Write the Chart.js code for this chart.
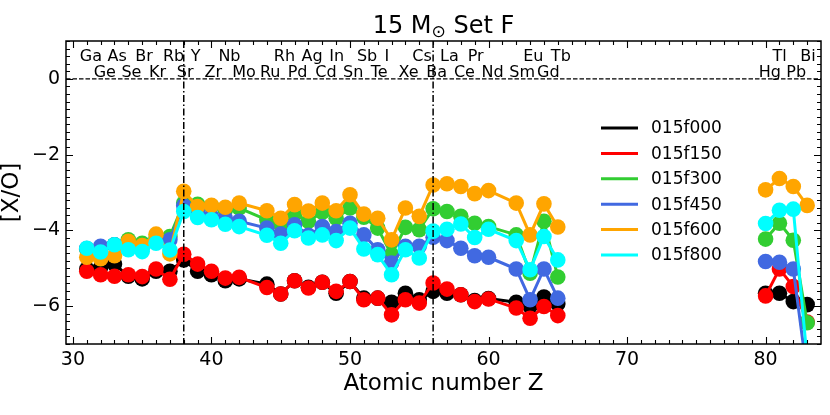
<!DOCTYPE html>
<html><head><meta charset="utf-8">
<script src="https://cdn.jsdelivr.net/npm/chart.js@4"></script>
<style>html,body{margin:0;padding:0;background:#fff}</style>
</head><body>
<canvas id="c" width="830" height="415"></canvas>
<script>
// ---- data ----
const Z = [31,32,33,34,35,36,37,38,39,40,41,42,44,45,46,47,48,49,50,51,52,53,54,55,56,57,58,59,60,62,63,64,65,66,80,81,82,83];
const s015f000 = [-5.02,-4.98,-4.89,-5.21,-5.28,-5.08,-5.08,-4.78,-5.08,-5.17,-5.33,-5.28,-5.42,-5.68,-5.33,-5.50,-5.37,-5.66,-5.35,-5.79,-5.79,-5.90,-5.66,-5.83,-5.61,-5.66,-5.70,-5.85,-5.80,-5.90,-6.01,-5.76,-5.94,null,-5.66,-5.66,-5.88,-5.96];
const s015f150 = [-5.08,-5.17,-5.21,-5.17,-5.22,-5.02,-5.29,-4.63,-4.89,-5.08,-5.26,-5.24,-5.51,-5.68,-5.33,-5.52,-5.37,-5.61,-5.35,-5.83,-5.79,-6.23,-5.83,-5.92,-5.39,-5.55,-5.70,-5.88,-5.81,-6.05,-6.32,-6.01,-6.25,null,-5.73,-5.02,-5.48,-6.42];
const s015f300 = [-4.50,-4.50,-4.38,-4.25,-4.34,-4.20,-4.16,-3.28,-3.31,-3.36,-3.46,-3.41,-3.72,-3.85,-3.57,-3.76,-3.52,-3.68,-3.41,-3.65,-3.94,-4.64,-3.92,-3.98,-3.43,-3.50,-3.63,-3.81,-3.90,-4.12,-5.13,-3.76,-5.23,null,-4.23,-3.81,-4.26,-6.44];
const s015f450 = [-4.48,-4.42,-4.38,-4.35,-4.45,-4.30,-4.25,-3.35,-3.50,-3.63,-3.68,-3.76,-3.94,-4.10,-3.85,-4.13,-3.90,-4.03,-3.81,-4.12,-4.51,-4.86,-4.42,-4.42,-4.18,-4.27,-4.47,-4.67,-4.71,-5.02,-5.83,-5.02,-5.79,null,-4.82,-4.84,-5.02,-7.80];
const s015f600 = [-4.71,-4.75,-4.67,-4.29,-4.40,-4.10,-4.62,-2.97,-3.37,-3.34,-3.39,-3.28,-3.48,-3.68,-3.32,-3.49,-3.28,-3.48,-3.06,-3.57,-3.68,-4.25,-3.41,-3.63,-2.80,-2.77,-2.84,-3.03,-2.95,-3.28,-4.12,-3.30,-3.91,null,-2.93,-2.63,-2.84,-3.34];
const s015f800 = [-4.47,-4.57,-4.38,-4.51,-4.56,-4.34,-4.52,-3.50,-3.66,-3.72,-3.84,-3.90,-4.13,-4.34,-4.01,-4.20,-4.12,-4.27,-3.94,-4.49,-4.64,-5.17,-4.51,-4.73,-4.02,-3.97,-3.83,-4.19,-3.97,-4.27,-5.04,-4.16,-4.78,null,-3.82,-3.47,-3.44,-7.40];
const seriesLabels = ['015f000','015f150','015f300','015f450','015f600','015f800'];
const seriesValues = [s015f000,s015f150,s015f300,s015f450,s015f600,s015f800];
const seriesColors = ['#000000','#ff0000','#32cd32','#4169e1','#ffa500','#00ffff'];
const xTickValues = [30,40,50,60,70,80];
const yTickValues = [0,-2,-4,-6];
const elemZ = [31,32,33,34,35,36,37,38,39,40,41,42,44,45,46,47,48,49,50,51,52,53,54,55,56,57,58,59,60,62,63,64,65,80,81,82,83];
const elemNames = ['Ga','Ge','As','Se','Br','Kr','Rb','Sr','Y','Zr','Nb','Mo','Ru','Rh','Pd','Ag','Cd','In','Sn','Sb','Te','I','Xe','Cs','Ba','La','Ce','Pr','Nd','Sm','Eu','Gd','Tb','Hg','Tl','Pb','Bi'];
const vLineZ = [38,56];

const FONT = '"DejaVu Sans", sans-serif';
const fmt = v => v < 0 ? '\u2212' + Math.abs(v) : String(v);

const deco = {
  id: 'deco',
  beforeDatasetsDraw(chart) {
    const {ctx, chartArea: a, scales: {x, y}} = chart;
    ctx.save();
    ctx.strokeStyle = '#000'; ctx.lineWidth = 1.2; ctx.setLineDash([4.5, 2]);
    const y0 = y.getPixelForValue(0);
    ctx.beginPath(); ctx.moveTo(a.left, y0); ctx.lineTo(a.right, y0); ctx.stroke();
    ctx.setLineDash([]);
    ctx.font = '16px ' + FONT; ctx.fillStyle = '#000';
    ctx.textAlign = 'left'; ctx.textBaseline = 'alphabetic';
    elemZ.forEach((z, i) => {
      const row = (z % 2 === 1) ? 0.47 : 0.06;
      ctx.fillText(elemNames[i], x.getPixelForValue(z - 0.5), y.getPixelForValue(row));
    });
    ctx.restore();
  },
  afterDatasetsDraw(chart) {
    const {ctx, chartArea: a, scales: {x, y}} = chart;
    ctx.save();
    // dash-dot vertical lines
    ctx.strokeStyle = '#000'; ctx.lineWidth = 1.5; ctx.setLineDash([7, 2.5, 1.5, 2.5]);
    vLineZ.forEach(z => {
      const px = x.getPixelForValue(z);
      ctx.beginPath(); ctx.moveTo(px, a.top); ctx.lineTo(px, a.bottom); ctx.stroke();
    });
    ctx.setLineDash([]);
    // ticks
    ctx.lineWidth = 1.1;
    ctx.beginPath();
    for (let z = 30; z <= 83; z++) {
      const px = Math.round(x.getPixelForValue(z)) + 0.5;
      const L = (z % 10 === 0) ? 7 : 4;
      ctx.moveTo(px, a.bottom); ctx.lineTo(px, a.bottom - L);
      ctx.moveTo(px, a.top); ctx.lineTo(px, a.top + L);
    }
    for (let k = -35; k <= 5; k++) {
      const v = k * 0.2;
      const py = Math.round(y.getPixelForValue(v)) + 0.5;
      const L = (k % 10 === 0) ? 7 : 4;
      ctx.moveTo(a.left, py); ctx.lineTo(a.left + L, py);
      ctx.moveTo(a.right, py); ctx.lineTo(a.right - L, py);
    }
    ctx.stroke();
    // frame
    ctx.lineWidth = 1.5;
    ctx.strokeRect(a.left, a.top, a.right - a.left, a.bottom - a.top);
    // legend
    ctx.font = '17px ' + FONT; ctx.fillStyle = '#000';
    ctx.textAlign = 'left'; ctx.textBaseline = 'middle';
    seriesLabels.forEach((lab, i) => {
      const ly = 128 + i * 25.4;
      ctx.strokeStyle = seriesColors[i]; ctx.lineWidth = 3;
      ctx.beginPath(); ctx.moveTo(601, ly); ctx.lineTo(638, ly); ctx.stroke();
      ctx.fillText(lab, 651, ly + 1);
    });
    // title with subscript
    const cx = (a.left + a.right) / 2;
    const p1 = '15 M', sub = '\u2299', p2 = ' Set F';
    ctx.font = '24px ' + FONT; const w1 = ctx.measureText(p1).width, w3 = ctx.measureText(p2).width;
    ctx.font = '17px ' + FONT; const w2 = ctx.measureText(sub).width;
    let tx = cx - (w1 + w2 + w3) / 2;
    const base = 33;
    ctx.textBaseline = 'alphabetic';
    ctx.font = '24px ' + FONT; ctx.fillText(p1, tx, base); tx += w1;
    ctx.font = '17px ' + FONT; ctx.fillText(sub, tx, base + 4); tx += w2;
    ctx.font = '24px ' + FONT; ctx.fillText(p2, tx, base);
    // axis titles
    ctx.font = '23px ' + FONT; ctx.textAlign = 'center'; ctx.textBaseline = 'middle';
    ctx.fillText('Atomic number Z', cx, 384);
    ctx.save();
    ctx.translate(12, (a.top + a.bottom) / 2);
    ctx.rotate(-Math.PI / 2);
    ctx.fillText('[X/O]', 0, 0);
    ctx.restore();
    ctx.restore();
  }
};

const datasets = seriesLabels.map((lab, i) => ({
  label: lab,
  data: Z.map((z, j) => ({x: z, y: seriesValues[i][j]})),
  borderColor: seriesColors[i],
  backgroundColor: seriesColors[i],
  pointBackgroundColor: seriesColors[i],
  pointBorderColor: seriesColors[i],
  pointBorderWidth: 0,
  pointRadius: 7.8,
  pointHoverRadius: 7.8,
  borderWidth: 3,
  tension: 0,
  spanGaps: false,
  clip: 0,
  order: seriesLabels.length - 1 - i
}));

new Chart(document.getElementById('c'), {
  type: 'line',
  data: {datasets},
  plugins: [deco],
  options: {
    responsive: false,
    animation: false,
    events: [],
    layout: {padding: {top: 41, right: 9, left: 0, bottom: 0}},
    plugins: {legend: {display: false}, title: {display: false}, tooltip: {enabled: false}},
    scales: {
      x: {
        type: 'linear', min: 29.5, max: 84,
        grid: {display: false, drawTicks: false},
        border: {display: false},
        afterBuildTicks: s => { s.ticks = xTickValues.map(v => ({value: v})); },
        afterFit: s => { s.height = 71; },
        ticks: {font: {size: 19, family: FONT}, color: '#000', padding: 5, maxRotation: 0, autoSkip: false, callback: v => fmt(v)}
      },
      y: {
        type: 'linear', min: -7, max: 1,
        grid: {display: false, drawTicks: false},
        border: {display: false},
        afterBuildTicks: s => { s.ticks = yTickValues.map(v => ({value: v})); },
        afterFit: s => { s.width = 66; },
        ticks: {font: {size: 19, family: FONT}, color: '#000', padding: 6, autoSkip: false, callback: v => fmt(v)}
      }
    }
  }
});
</script>
</body></html>
